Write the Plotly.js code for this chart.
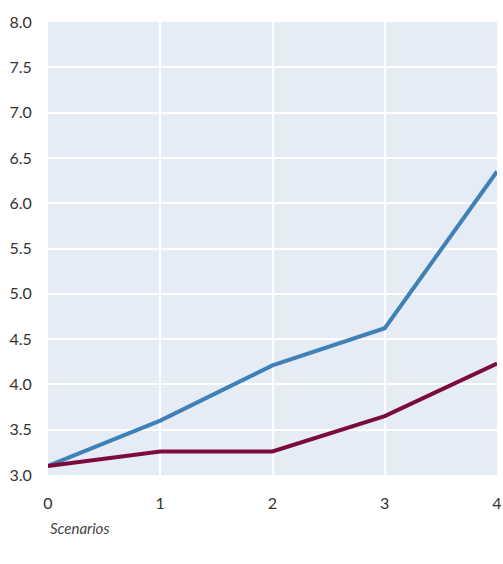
<!DOCTYPE html>
<html>
<head>
<meta charset="utf-8">
<script src="https://cdn.plot.ly/plotly-3.0.1.min.js"></script>
<style>html,body{margin:0;padding:0;background:#fff;}#chart{width:503px;height:564px;}</style>
</head>
<body>
<div id="chart"></div>
<script>
const scenarios = [0, 1, 2, 3, 4];
const seriesHigh = [3.10, 3.60, 4.21, 4.62, 6.35];
const seriesLow = [3.10, 3.26, 3.26, 3.65, 4.23];
const yTicks = [3.0, 3.5, 4.0, 4.5, 5.0, 5.5, 6.0, 6.5, 7.0, 7.5, 8.0];

const traces = [
  {x: scenarios, y: seriesHigh, mode: 'lines', line: {color: '#3f80b6', width: 4}, name: 'High', hoverinfo: 'skip'},
  {x: scenarios, y: seriesLow, mode: 'lines', line: {color: '#7d0a3c', width: 4}, name: 'Low', hoverinfo: 'skip'}
];

const layout = {
  width: 503, height: 564,
  margin: {l: 48, r: 6, t: 22, b: 89},
  paper_bgcolor: '#ffffff',
  plot_bgcolor: '#e5ecf6',
  showlegend: false,
  font: {family: 'Lato, "Open Sans", sans-serif', size: 16, color: '#333333'},
  xaxis: {
    range: [0, 4], tickvals: scenarios, ticktext: scenarios.map(String),
    showgrid: true, gridcolor: '#ffffff', gridwidth: 2, zeroline: false, showline: false,
    ticks: 'outside', ticklen: 14, tickcolor: 'rgba(0,0,0,0)'
  },
  yaxis: {
    range: [3.0, 8.0], tickvals: yTicks, ticktext: yTicks.map(v => v.toFixed(1)),
    showgrid: true, gridcolor: '#ffffff', gridwidth: 2, zeroline: false, showline: false,
    ticks: 'outside', ticklen: 12, tickcolor: 'rgba(0,0,0,0)'
  },
  annotations: [
    {text: '<i>Scenarios</i>', xref: 'paper', yref: 'paper', x: 0, y: 0, xanchor: 'left', yanchor: 'top',
     yshift: -42, showarrow: false, font: {size: 15, color: '#444444'}}
  ]
};

Plotly.newPlot('chart', traces, layout, {displayModeBar: false, staticPlot: true});
</script>
</body>
</html>
